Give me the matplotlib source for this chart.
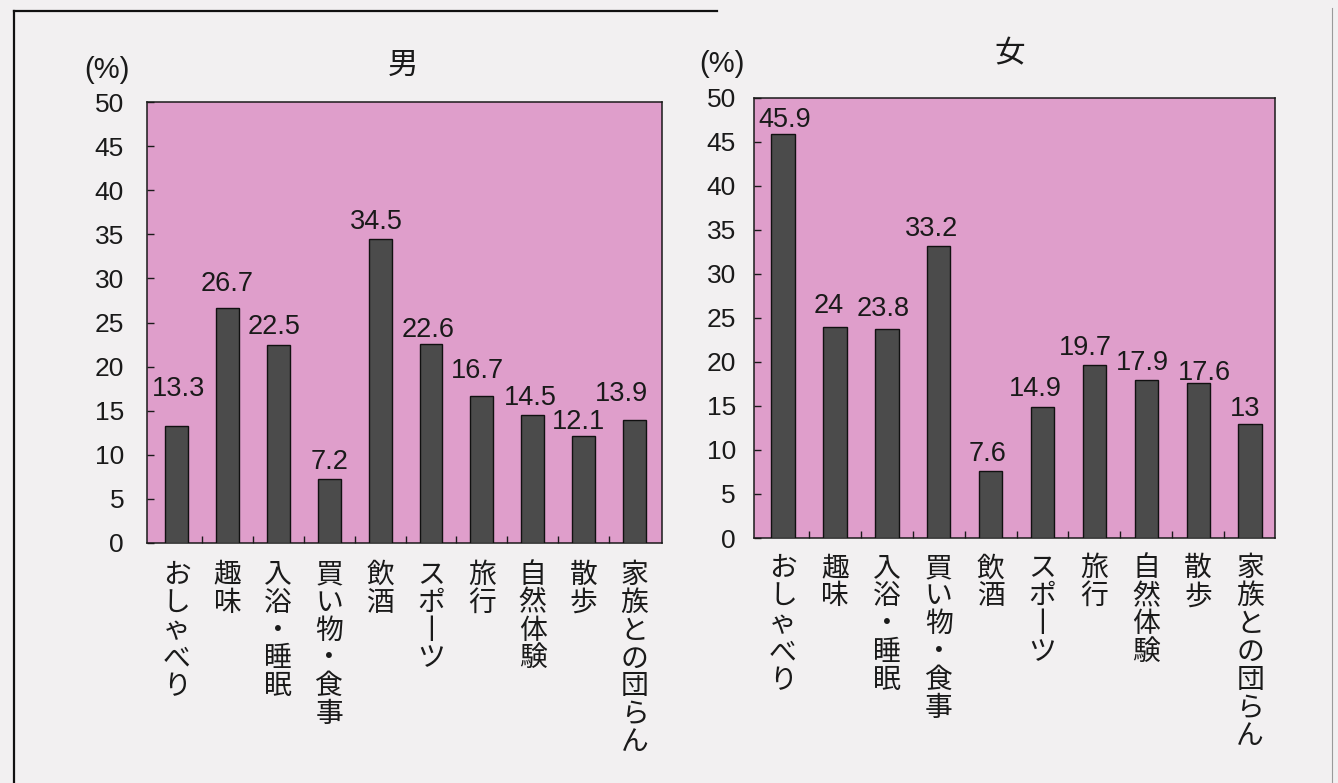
import matplotlib
matplotlib.use("Agg")
import matplotlib.pyplot as plt
from matplotlib.lines import Line2D
import numpy as np

# ---- data ----
categories = ["おしゃべり", "趣味", "入浴・睡眠", "買い物・食事", "飲酒",
              "スポーツ", "旅行", "自然体験", "散歩", "家族との団らん"]
male_values = [13.3, 26.7, 22.5, 7.2, 34.5, 22.6, 16.7, 14.5, 12.1, 13.9]
female_values = [45.9, 24, 23.8, 33.2, 7.6, 14.9, 19.7, 17.9, 17.6, 13]
yticks = [0, 5, 10, 15, 20, 25, 30, 35, 40, 45, 50]
titles = ["男", "女"]
unit_label = "(%)"

# ---- styling / layout tweaks (label offsets in pixels: dx, dy) ----
male_lab_dx = [2, 0, -4, 0, -4, -3, -4, -2, -5, -13]
male_lab_dy = [30, 17, 11, 10, 10, 7, 18, 10, 7, 19]
female_lab_dx = [2, -6, -4, -7, -3, -7, -9, -4, 6, -5]
female_lab_dy = [7, 14, 13, 10, 10, 11, 10, 10, 3, 8]

W, H = 1338, 783
DPI = 100
PX2PT = 72.0 / DPI

PINK = "#df9ecb"
BAR = "#4b4b4b"
INK = "#1a1a1a"
PAPER = "#f2f0f1"

CJK = ["Noto Sans CJK JP", "DejaVu Sans"]
NUM = ["Liberation Sans", "DejaVu Sans"]

fig = plt.figure(figsize=(W / DPI, H / DPI), dpi=DPI, facecolor=PAPER)


def vertical(s):
    # vertical writing: one character per line, long-vowel mark turned upright
    return "\n".join("丨" if c == "ー" else c for c in s)


def make_panel(rect_px, values, xlim, dxs, dys, ypad, title, title_xy, unit_xy, xlab_pad):
    l, t, r, b = rect_px
    ax = fig.add_axes([l / W, 1 - b / H, (r - l) / W, (b - t) / H])
    ax.set_facecolor(PINK)
    x = np.arange(len(categories))
    ax.bar(x, values, width=0.45, color=BAR, edgecolor="#111111", linewidth=1.0, zorder=3)
    ax.set_xlim(*xlim)
    ax.set_ylim(0, 50)
    ax.set_yticks(yticks)
    ax.set_yticklabels([str(v) for v in yticks], fontsize=19, family=NUM, color=INK)
    ax.tick_params(axis="y", direction="in", length=5, width=1, color=INK, pad=ypad,
                   left=True, right=False)
    ax.set_xticks(x)
    ax.set_xticklabels([vertical(c) for c in categories], fontsize=20, family=CJK,
                       color=INK, va="top", ha="center")
    for lab in ax.get_xticklabels():
        lab.set_linespacing(0.91)
    ax.tick_params(axis="x", which="major", length=0, pad=xlab_pad)
    ax.set_xticks(x[:-1] + 0.5, minor=True)
    ax.tick_params(axis="x", which="minor", direction="in", length=5, width=1, color=INK,
                   top=False, bottom=True)
    for sp in ax.spines.values():
        sp.set_color(INK)
        sp.set_linewidth(1.1)
    for i, v in enumerate(values):
        ax.annotate(f"{v:g}", (x[i], v), xytext=(dxs[i] * PX2PT, dys[i] * PX2PT),
                    textcoords="offset points", ha="center", va="baseline",
                    fontsize=19.5, family=NUM, color=INK, zorder=4)
    fig.text(title_xy[0] / W, 1 - title_xy[1] / H, title, fontsize=22, family=CJK,
             color=INK, ha="center", va="center")
    fig.text(unit_xy[0] / W, 1 - unit_xy[1] / H, unit_label, fontsize=21, family=NUM,
             color=INK, ha="center", va="center")
    return ax


make_panel((147, 102, 662, 543), male_values, (-0.58, 9.54), male_lab_dx, male_lab_dy,
           16.5, titles[0], (403, 65), (107, 70), 12)
make_panel((754, 98, 1275, 538), female_values, (-0.56, 9.48), female_lab_dx, female_lab_dy,
           13, titles[1], (1010, 54), (722, 64), 11)

# page frame lines from the scanned page
fig.add_artist(Line2D([14 / W, 14 / W], [1 - 11 / H, 0], transform=fig.transFigure,
                      color="#111111", linewidth=1.6))
fig.add_artist(Line2D([14 / W, 717 / W], [1 - 11 / H, 1 - 11 / H], transform=fig.transFigure,
                      color="#111111", linewidth=1.6))
fig.add_artist(Line2D([1332 / W, 1332 / W], [1 - 8 / H, 0], transform=fig.transFigure,
                      color="#9a9a9a", linewidth=0.8))

fig.savefig("out.png", dpi=DPI, facecolor=PAPER)
